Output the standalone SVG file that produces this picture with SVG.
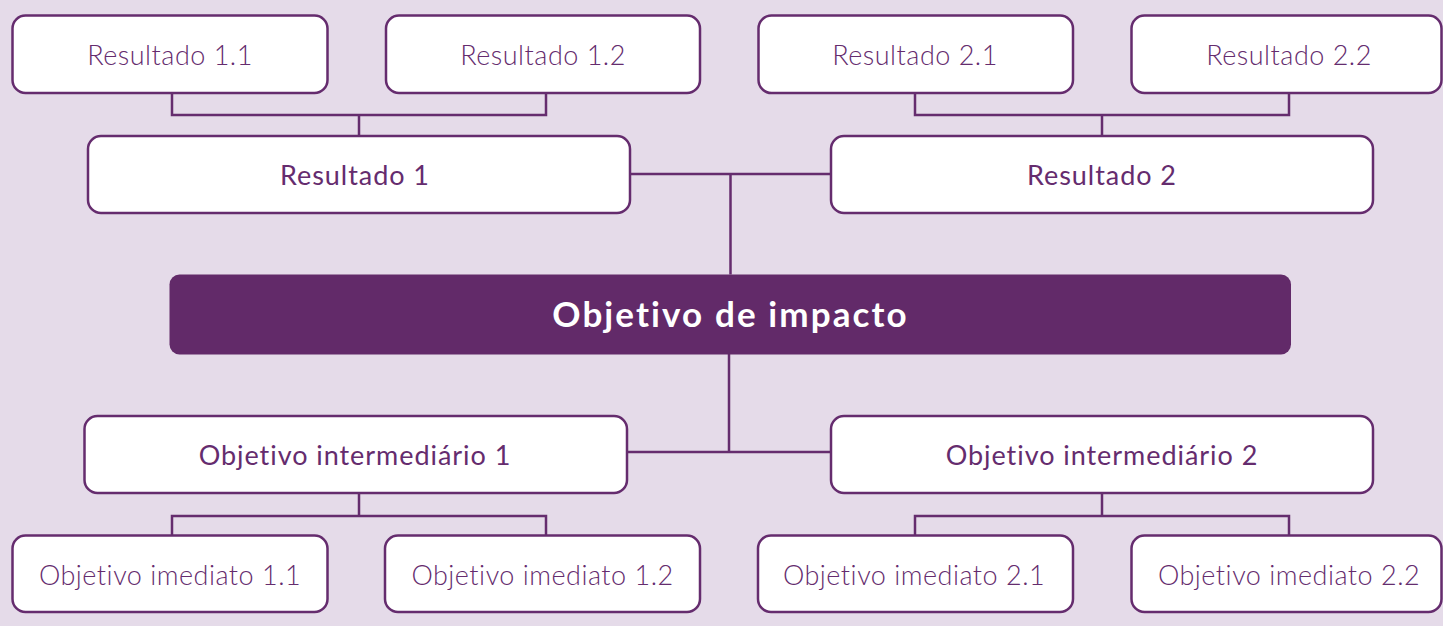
<svg xmlns="http://www.w3.org/2000/svg" width="1443" height="626" viewBox="0 0 1443 626">
<style>
.box{fill:#ffffff;stroke:#652c6e;stroke-width:2.5}
.hub{fill:#622a69}
.conn path{fill:none;stroke:#652c6e;stroke-width:2.5}
.t{font-family:Lato,"Open Sans","Liberation Sans",sans-serif;fill:#652c6e;text-anchor:middle}
.leaf{font-size:27px;font-weight:300;letter-spacing:0.5px}
.mid{font-size:27px;font-weight:400;letter-spacing:0.95px}
.main{font-size:35px;font-weight:700;fill:#ffffff;letter-spacing:2.1px}
</style>
<rect width="1443" height="626" fill="#e5dbe9"/>
<g id="connectors" class="conn">
<path d="M172 93 V115 H546 V93 M359 115 V136"/>
<path d="M915 93 V115 H1289 V93 M1102 115 V136"/>
<path d="M630 174 H831 M730.5 174 V274.5"/>
<path d="M729 354 V452 M627 452 H831"/>
<path d="M359 493 V516 M172 536 V516 H546 V536"/>
<path d="M1102 493 V516 M915 536 V516 H1289 V536"/>
</g>
<g id="r11"><rect class="box" x="12.5" y="15.5" width="315" height="77.5" rx="13"/><text class="t leaf" x="170" y="65">Resultado 1.1</text></g>
<g id="r12"><rect class="box" x="386" y="15.5" width="314" height="77.5" rx="13"/><text class="t leaf" x="543" y="65">Resultado 1.2</text></g>
<g id="r21"><rect class="box" x="758.5" y="15.5" width="314.5" height="77.5" rx="13"/><text class="t leaf" x="915" y="65">Resultado 2.1</text></g>
<g id="r22"><rect class="box" x="1131.5" y="15.5" width="310" height="77.5" rx="13"/><text class="t leaf" x="1289" y="65">Resultado 2.2</text></g>
<g id="r1"><rect class="box" x="88" y="136" width="542" height="77" rx="13"/><text class="t mid" x="355" y="185">Resultado 1</text></g>
<g id="r2"><rect class="box" x="831" y="136" width="542" height="77" rx="13"/><text class="t mid" x="1102" y="185">Resultado 2</text></g>
<g id="impact"><rect class="hub" x="169.5" y="274.5" width="1121.5" height="80" rx="10"/><text class="t main" x="730.5" y="327">Objetivo de impacto</text></g>
<g id="oi1"><rect class="box" x="84.5" y="416" width="542.5" height="77" rx="13"/><text class="t mid" x="355" y="465">Objetivo intermediário 1</text></g>
<g id="oi2"><rect class="box" x="831" y="416" width="542" height="77" rx="13"/><text class="t mid" x="1102" y="465">Objetivo intermediário 2</text></g>
<g id="o11"><rect class="box" x="12.5" y="535.5" width="315" height="76.5" rx="13"/><text class="t leaf" x="170" y="585">Objetivo imediato 1.1</text></g>
<g id="o12"><rect class="box" x="385" y="535.5" width="315" height="76.5" rx="13"/><text class="t leaf" x="542.5" y="585">Objetivo imediato 1.2</text></g>
<g id="o21"><rect class="box" x="758" y="535.5" width="315" height="76.5" rx="13"/><text class="t leaf" x="914" y="585">Objetivo imediato 2.1</text></g>
<g id="o22"><rect class="box" x="1131.5" y="535.5" width="310" height="76.5" rx="13"/><text class="t leaf" x="1289" y="585">Objetivo imediato 2.2</text></g>
</svg>
